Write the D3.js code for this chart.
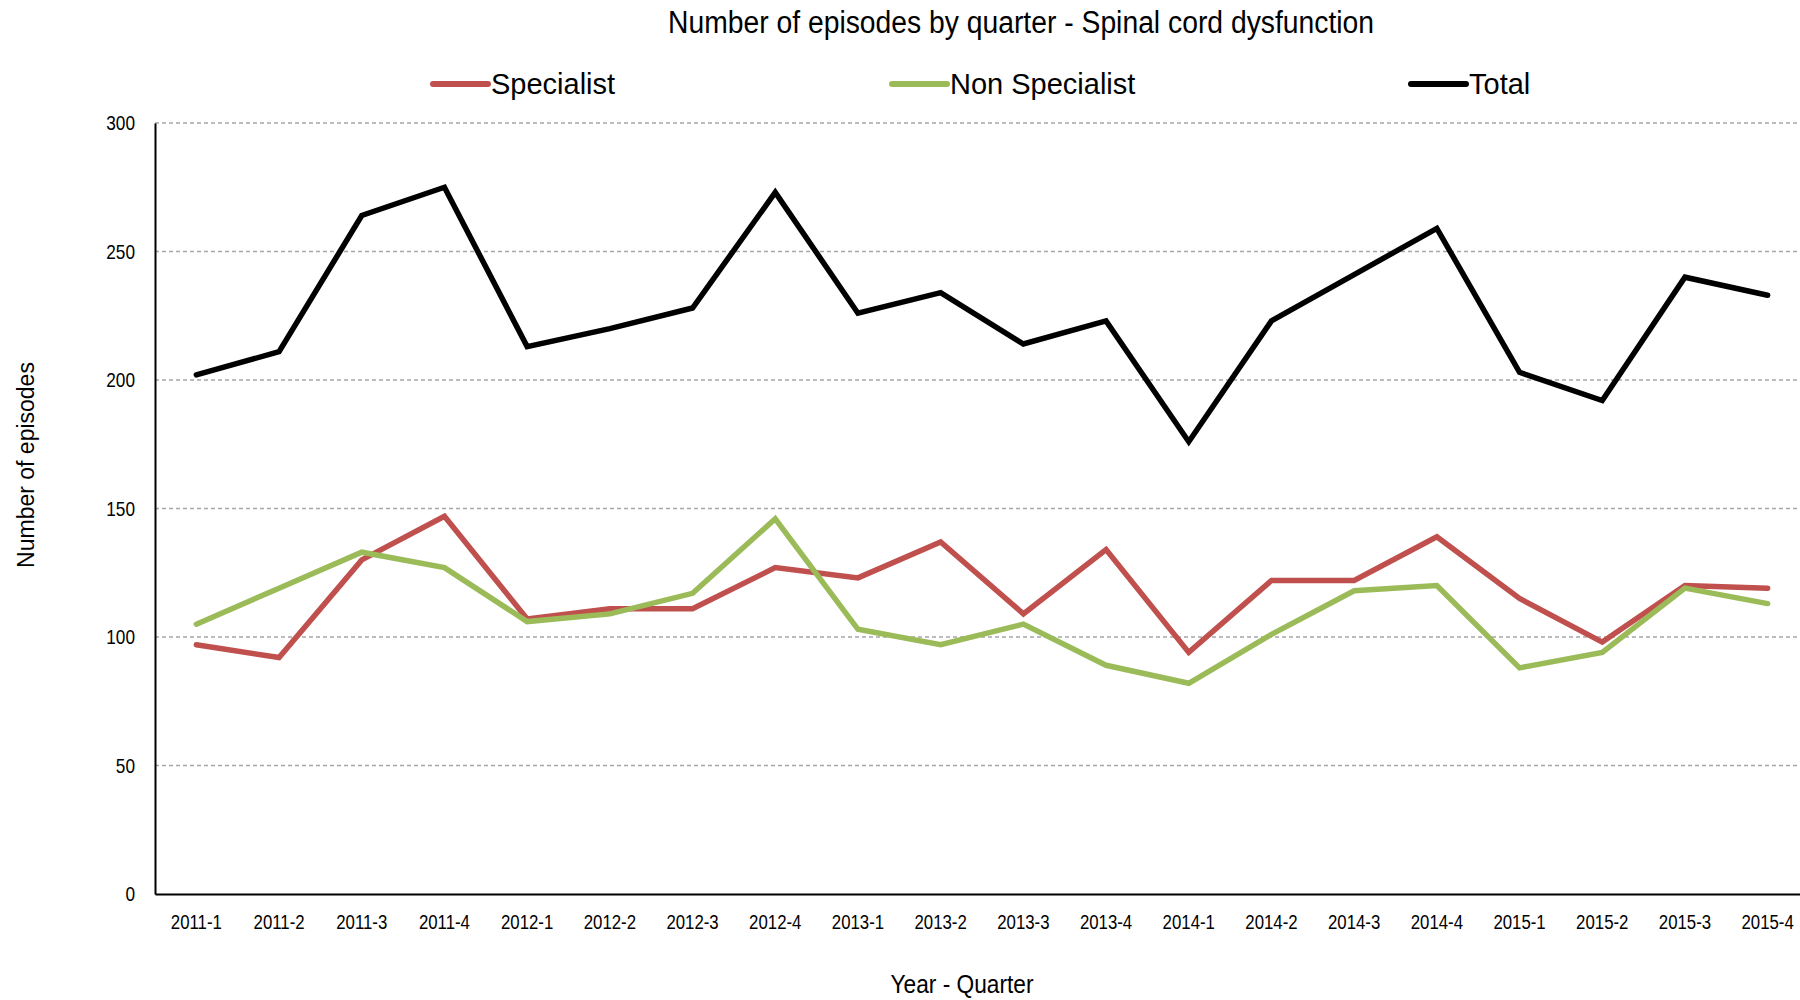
<!DOCTYPE html>
<html><head><meta charset="utf-8">
<script src="https://cdn.jsdelivr.net/npm/d3@7"></script>
<style>
html,body{margin:0;padding:0;background:#fff;}
svg text{fill:#000;}
.narrow{font-family:"Liberation Sans Narrow","Arial Narrow","Liberation Sans",Arial,sans-serif;}
.reg{font-family:"Liberation Sans",Arial,sans-serif;}
</style></head>
<body>
<svg id="chart" width="1800" height="1000"></svg>
<script>
const quarters = ["2011-1","2011-2","2011-3","2011-4","2012-1","2012-2","2012-3","2012-4","2013-1","2013-2","2013-3","2013-4","2014-1","2014-2","2014-3","2014-4","2015-1","2015-2","2015-3","2015-4"];
const specialist = [97,92,130,147,107,111,111,127,123,137,109,134,94,122,122,139,115,98,120,119];
const nonSpecialist = [105,119,133,127,106,109,117,146,103,97,105,89,82,101,118,120,88,94,119,113];
const total = [202,211,264,275,213,220,228,273,226,234,214,223,176,223,241,259,203,192,240,233];
const yTicks = [0,50,100,150,200,250,300];
const seriesNames = ["Specialist","Non Specialist","Total"];
const seriesColors = ["#C0504D","#9BBB59","#000000"];

const svg = d3.select("#chart");
const L = 155, R = 1809, T = 123, B = 894;

const x = d3.scaleBand().domain(quarters).range([L, R]);
const y = d3.scaleLinear().domain([0, 300]).range([B, T]);

// gridlines
svg.append("g").selectAll("line").data(yTicks.filter(d => d > 0)).join("line")
  .attr("x1", L).attr("x2", 1800)
  .attr("y1", d => y(d)).attr("y2", d => y(d))
  .attr("stroke", "#a6a6a6").attr("stroke-width", 1.4).attr("stroke-dasharray", "4,3");

// y axis
const yAxis = svg.append("g").attr("transform", `translate(${L},0)`)
  .call(d3.axisLeft(y).tickValues(yTicks).tickSize(0).tickPadding(0));
yAxis.select(".domain").attr("stroke", "#000").attr("stroke-width", 2);
yAxis.selectAll("text").attr("class", "narrow").style("font-size", "21px").attr("fill", "#000")
  .attr("x", null).attr("transform", "translate(-20,0) scale(0.82,1)");

// x axis
const xAxis = svg.append("g").attr("transform", `translate(0,${B})`)
  .call(d3.axisBottom(x).tickSize(0).tickPadding(20));
xAxis.select(".domain").attr("stroke", "#000").attr("stroke-width", 2);
xAxis.selectAll("text").attr("class", "narrow").style("font-size", "21px").attr("fill", "#000")
  .attr("transform", "scale(0.8,1)");

// lines
const data = [specialist, nonSpecialist, total];
const line = d3.line().x((d, i) => x(quarters[i]) + x.bandwidth() / 2).y(d => y(d));
svg.append("g").selectAll("path").data(data).join("path")
  .attr("d", d => line(d))
  .attr("fill", "none")
  .attr("stroke", (d, i) => seriesColors[i])
  .attr("stroke-width", 5.5)
  .attr("stroke-linejoin", "miter")
  .attr("stroke-linecap", "round");

// title
svg.append("text").attr("class", "narrow")
  .attr("x", 1021).attr("y", 33).attr("text-anchor", "middle")
  .attr("textLength", 706).attr("lengthAdjust", "spacingAndGlyphs")
  .style("font-size", "31px")
  .text("Number of episodes by quarter - Spinal cord dysfunction");

// legend
const legendX = [433, 892, 1411];
const lg = svg.append("g").selectAll("g").data(seriesNames).join("g")
  .attr("transform", (d, i) => `translate(${legendX[i]},84)`);
lg.append("line").attr("x1", 0).attr("x2", 55).attr("y1", 0).attr("y2", 0)
  .attr("stroke", (d, i) => seriesColors[i]).attr("stroke-width", 6).attr("stroke-linecap", "round");
lg.append("text").attr("class", "reg").attr("x", 58).attr("y", 10)
  .style("font-size", "29px").text(d => d);

// axis titles
svg.append("text").attr("class", "reg")
  .attr("transform", "translate(34,465) rotate(-90)").attr("text-anchor", "middle")
  .style("font-size", "23px").text("Number of episodes");
svg.append("text").attr("class", "narrow")
  .attr("x", 962).attr("y", 993).attr("text-anchor", "middle")
  .attr("textLength", 143).attr("lengthAdjust", "spacingAndGlyphs")
  .style("font-size", "26px").text("Year - Quarter");
</script>
</body></html>
